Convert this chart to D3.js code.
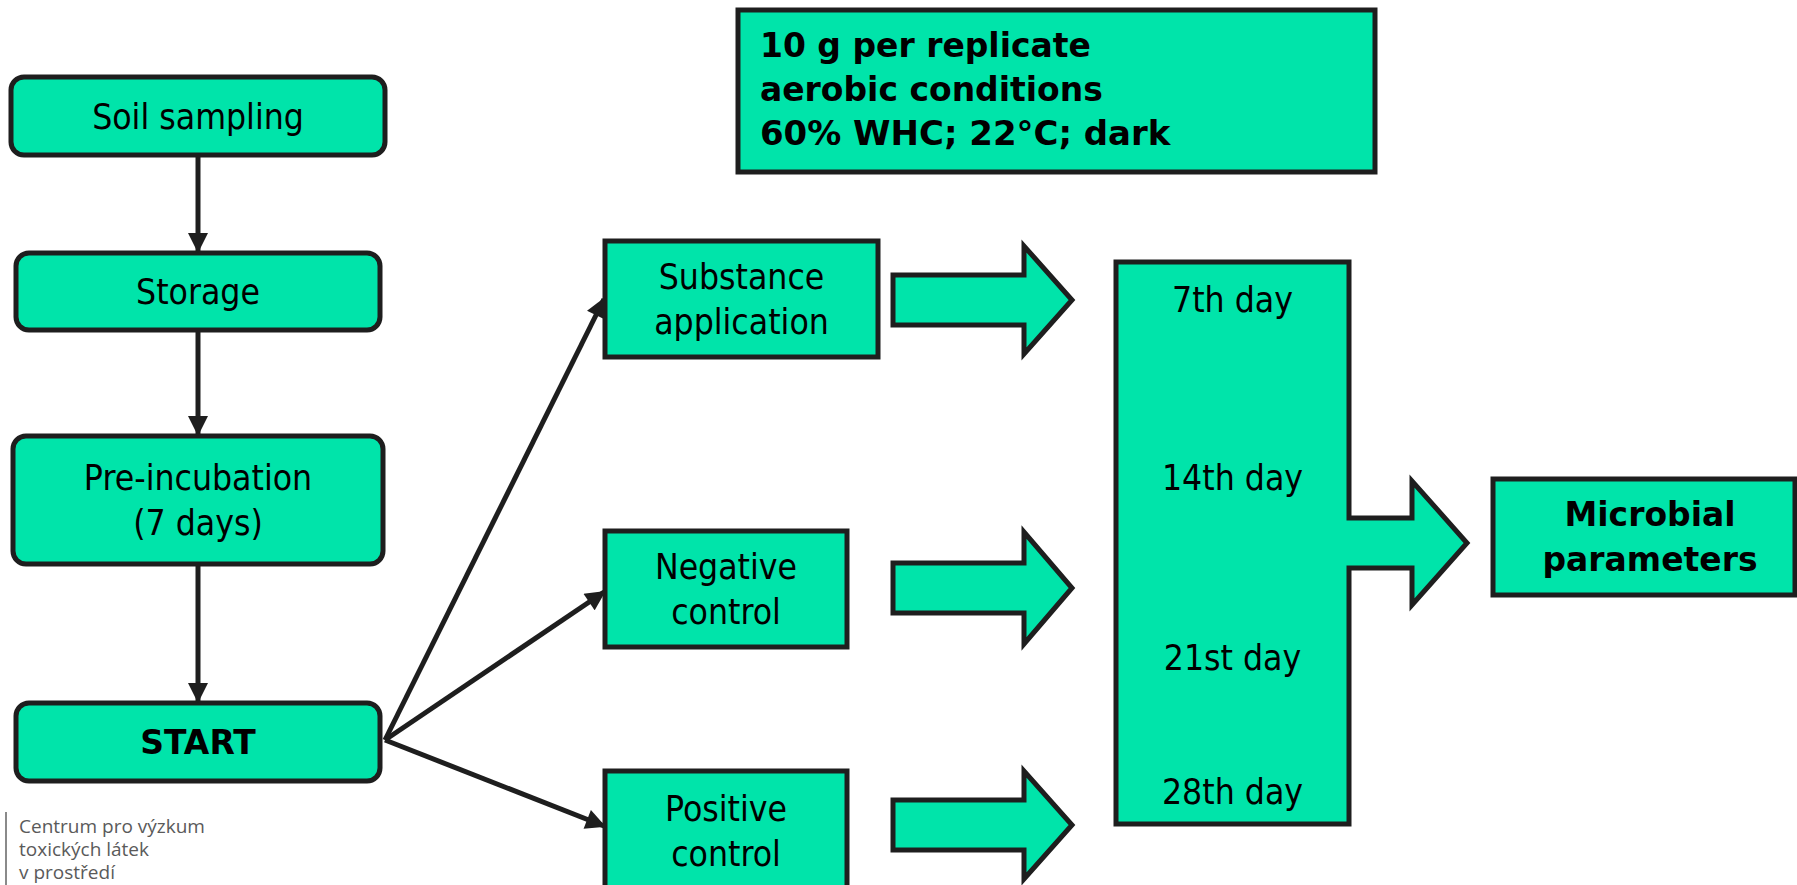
<!DOCTYPE html>
<html><head><meta charset="utf-8">
<script src="https://cdn.jsdelivr.net/npm/d3@7"></script>
<style>html,body{margin:0;padding:0;background:#fff;overflow:hidden}</style>
</head><body>
<svg id="c" width="1797" height="885"></svg>
<script>
// ---- content ----
const leftSteps = ["Soil sampling", "Storage", "Pre-incubation\n(7 days)", "START"];
const leftBold = [false, false, false, true];
const treatments = ["Substance\napplication", "Negative\ncontrol", "Positive\ncontrol"];
const samplingDays = ["7th day", "14th day", "21st day", "28th day"];
const conditions = ["10 g per replicate", "aerobic conditions", "60% WHC; 22°C; dark"];
const outcome = ["Microbial", "parameters"];
const logoLines = ["Centrum pro výzkum", "toxických látek", "v prostředí"];

// ---- layout ----
const FILL = "#00e4aa", STROKE = "#1e1e1e";
const FS = 36, SX = 0.88, LH = 45, FSB = 34, SXB = 0.97;
const leftBoxes = [
  {x0: 11, x1: 385, y0: 77, y1: 155},
  {x0: 16, x1: 380, y0: 253, y1: 330},
  {x0: 13, x1: 383, y0: 436, y1: 564},
  {x0: 16, x1: 380, y0: 703, y1: 781}
];
const treatBoxes = [
  {x0: 605, x1: 878, y0: 241, y1: 357},
  {x0: 605, x1: 847, y0: 531, y1: 647},
  {x0: 605, x1: 847, y0: 771, y1: 890}
];
const blockArrows = [
  {x0: 893, xh: 1024, xt: 1072, cy: 300, sh: 25, hh: 54},
  {x0: 893, xh: 1024, xt: 1072, cy: 588, sh: 25, hh: 56},
  {x0: 893, xh: 1024, xt: 1072, cy: 825, sh: 25, hh: 54}
];
const dayBox = {x0: 1116, x1: 1349, y0: 262, y1: 824, xh: 1412, xt: 1467, cy: 543, sh: 25, hh: 62};
const dayBaselines = [312, 490, 670, 804];
const outBox = {x0: 1493, x1: 1795, y0: 479, y1: 595};
const condBox = {x0: 738, x1: 1375, y0: 10, y1: 172};
const condBaselines = [57, 101, 145];
const condStretch = [1, 1, 1.03];
const startPt = {x: 385, y: 740};

const svg = d3.select("#c");
const defs = svg.append("defs");
defs.append("marker").attr("id", "ah").attr("viewBox", "0 0 10 10")
  .attr("refX", 9).attr("refY", 5).attr("markerWidth", 4.4).attr("markerHeight", 4)
  .attr("markerUnits", "strokeWidth").attr("orient", "auto")
  .append("path").attr("d", "M0,0 L10,5 L0,10 Z").attr("fill", STROKE);

function label(g, lines, cx, cy, bold, anchor) {
  const n = lines.length;
  const fs = bold ? FSB : FS, sx = bold ? SXB : SX;
  lines.forEach((t, i) => {
    const by = cy - (n - 1) * LH / 2 + i * LH + fs * 0.36;
    g.append("g").attr("transform", `translate(${cx},${by}) scale(${sx},1)`)
      .append("text").attr("text-anchor", anchor || "middle")
      .attr("font-family", "'DejaVu Sans', Verdana, sans-serif")
      .attr("font-size", fs).attr("font-weight", bold ? "bold" : "normal")
      .attr("fill", "#000").text(t);
  });
}

// left column rounded boxes
const gl = svg.append("g");
leftSteps.forEach((s, i) => {
  const b = leftBoxes[i];
  gl.append("rect").attr("x", b.x0).attr("y", b.y0).attr("width", b.x1 - b.x0).attr("height", b.y1 - b.y0)
    .attr("rx", 13).attr("fill", FILL).attr("stroke", STROKE).attr("stroke-width", 5);
  label(gl, s.split("\n"), (b.x0 + b.x1) / 2, (b.y0 + b.y1) / 2, leftBold[i]);
});
// vertical connectors
const line = d3.line();
for (let i = 0; i < leftSteps.length - 1; i++) {
  const a = leftBoxes[i], b = leftBoxes[i + 1];
  svg.append("path").attr("d", line([[198, a.y1 + 2], [198, b.y0 - 2]]))
    .attr("stroke", STROKE).attr("stroke-width", 5).attr("fill", "none").attr("marker-end", "url(#ah)");
}
// diagonal connectors
treatBoxes.forEach((b, i) => {
  const ty = i === 0 ? b.y0 + 58 : (i === 1 ? b.y0 + 61 : b.y0 + 55);
  svg.append("path").attr("d", line([[startPt.x, startPt.y], [b.x0 - 1, ty]]))
    .attr("stroke", STROKE).attr("stroke-width", 5).attr("fill", "none").attr("marker-end", "url(#ah)");
});
// treatment boxes
treatments.forEach((s, i) => {
  const b = treatBoxes[i];
  svg.append("rect").attr("x", b.x0).attr("y", b.y0).attr("width", b.x1 - b.x0).attr("height", b.y1 - b.y0)
    .attr("fill", FILL).attr("stroke", STROKE).attr("stroke-width", 5);
  label(svg, s.split("\n"), (b.x0 + b.x1) / 2, (b.y0 + b.y1) / 2, false);
});
// block arrows
blockArrows.forEach(a => {
  const pts = [[a.x0, a.cy - a.sh], [a.xh, a.cy - a.sh], [a.xh, a.cy - a.hh], [a.xt, a.cy],
    [a.xh, a.cy + a.hh], [a.xh, a.cy + a.sh], [a.x0, a.cy + a.sh]];
  svg.append("path").attr("d", d3.line()(pts) + "Z").attr("fill", FILL).attr("stroke", STROKE).attr("stroke-width", 5);
});
// days box merged with arrow
{
  const d = dayBox;
  const pts = [[d.x0, d.y0], [d.x1, d.y0], [d.x1, d.cy - d.sh], [d.xh, d.cy - d.sh], [d.xh, d.cy - d.hh],
    [d.xt, d.cy], [d.xh, d.cy + d.hh], [d.xh, d.cy + d.sh], [d.x1, d.cy + d.sh], [d.x1, d.y1], [d.x0, d.y1]];
  svg.append("path").attr("d", d3.line()(pts) + "Z").attr("fill", FILL).attr("stroke", STROKE).attr("stroke-width", 5);
  samplingDays.forEach((t, i) => {
    label(svg, [t], (d.x0 + d.x1) / 2, dayBaselines[i] - FS * 0.36, false);
  });
}
// outcome
svg.append("rect").attr("x", outBox.x0).attr("y", outBox.y0).attr("width", outBox.x1 - outBox.x0)
  .attr("height", outBox.y1 - outBox.y0).attr("fill", FILL).attr("stroke", STROKE).attr("stroke-width", 5);
label(svg, outcome, (outBox.x0 + outBox.x1) / 2 + 6, (outBox.y0 + outBox.y1) / 2 - 1, true);
// conditions box
svg.append("rect").attr("x", condBox.x0).attr("y", condBox.y0).attr("width", condBox.x1 - condBox.x0)
  .attr("height", condBox.y1 - condBox.y0).attr("fill", FILL).attr("stroke", STROKE).attr("stroke-width", 5);
conditions.forEach((t, i) => {
  svg.append("g").attr("transform", `translate(760,${condBaselines[i]}) scale(${SXB * condStretch[i]},1)`)
    .append("text").attr("font-family", "'DejaVu Sans', Verdana, sans-serif")
    .attr("font-size", FSB).attr("font-weight", "bold").attr("fill", "#000").text(t);
});
// logo
svg.append("line").attr("x1", 6).attr("x2", 6).attr("y1", 812).attr("y2", 885)
  .attr("stroke", "#8a8a8a").attr("stroke-width", 2);
logoLines.forEach((t, i) => {
  svg.append("text").attr("x", 19).attr("y", 833 + i * 23)
    .attr("font-family", "'Open Sans', Lato, sans-serif").attr("font-size", 19)
    .attr("fill", "#5a5a5a").text(t);
});
</script>
</body></html>
